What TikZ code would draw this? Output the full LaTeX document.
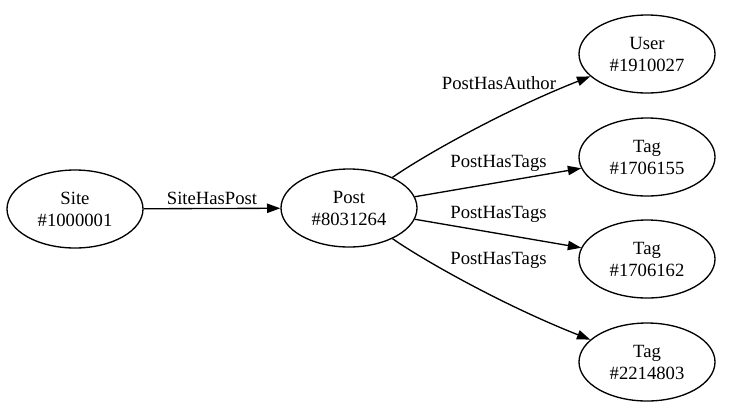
\documentclass[tikz,border=0pt]{standalone}
\usepackage{fontspec}
\setmainfont{Liberation Serif}
\usetikzlibrary{arrows.meta,shapes.geometric}
\begin{document}
\begin{tikzpicture}[x=0.75pt,y=-0.75pt,
  ent/.style={ellipse,draw,line width=1pt,minimum width=102pt,minimum height=58.5pt,
    inner sep=0pt,align=center,font=\fontsize{14}{16.5}\selectfont},
  rel/.style={draw,line width=1pt,-{Triangle[length=10pt,width=7pt]}},
  lbl/.style={font=\fontsize{14}{16.5}\selectfont,inner sep=0pt}]
\useasboundingbox (0,0) rectangle (748,412);

% entities
\node[ent] (site) at (75,209)  {Site\\\#1000001};
\node[ent] (post) at (349,208) {Post\\\#8031264};
\node[ent] (user) at (647,54)  {User\\\#1910027};
\node[ent] (tagA) at (647,157) {Tag\\\#1706155};
\node[ent] (tagB) at (647,259) {Tag\\\#1706162};
\node[ent] (tagC) at (647,362) {Tag\\\#2214803};

% relations
\draw[rel] (site) -- (post);
\draw[rel] (post) .. controls (420,158) and (500,112) .. (user);
\draw[rel] (post) -- (tagA);
\draw[rel] (post) -- (tagB);
\draw[rel] (post) .. controls (420,258) and (500,304) .. (tagC);

% relation labels
\node[lbl] (l1) at (212,198)   {SiteHasPost};
\node[lbl] (l2) at (499,83)    {PostHasAuthor};
\node[lbl] (l3) at (498.5,163) {PostHasTags};
\node[lbl] (l4) at (498.5,214) {PostHasTags};
\node[lbl] (l5) at (498.5,260) {PostHasTags};
\end{tikzpicture}
\end{document}
